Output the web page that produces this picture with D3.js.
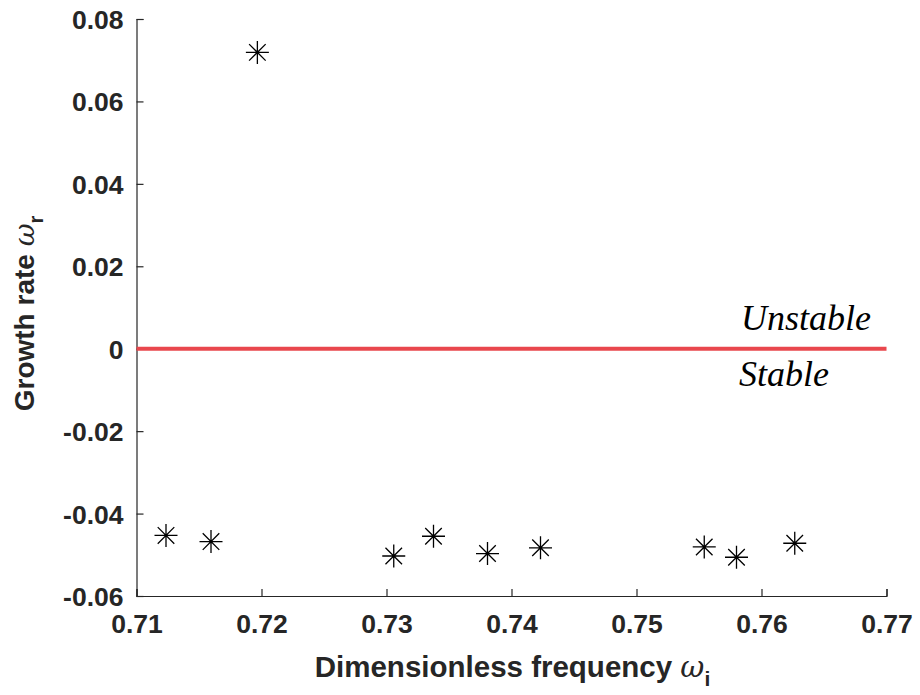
<!DOCTYPE html>
<html>
<head>
<meta charset="utf-8">
<script src="https://cdn.jsdelivr.net/npm/d3@7"></script>
<style>
  html, body { margin: 0; padding: 0; background: #fff; }
  svg { display: block; }
</style>
</head>
<body>
<div id="chart"></div>
<script>
// Eigenvalue spectrum: dimensionless frequency vs growth rate
const frequency = [0.71236, 0.71596, 0.71967, 0.73058, 0.73376, 0.73808, 0.74232, 0.75542, 0.75800, 0.76266];
const growthRate = [-0.0453, -0.0468, 0.0719, -0.0503, -0.0455, -0.0497, -0.0483, -0.0481, -0.0506, -0.0472];

const xTicks = [0.71, 0.72, 0.73, 0.74, 0.75, 0.76, 0.77];
const yTicks = [-0.06, -0.04, -0.02, 0, 0.02, 0.04, 0.06, 0.08];
const xDomain = [0.71, 0.77];
const yDomain = [-0.06, 0.08];
const neutralLevel = 0;

const W = 920, H = 695;
const margin = { left: 136.5, right: 33.5, top: 19, bottom: 99 };
const axisColor = "#262626";
const font = "'Liberation Sans', Arial, Helvetica, sans-serif";

const svg = d3.select("#chart").append("svg")
  .attr("width", W).attr("height", H);

const x = d3.scaleLinear().domain(xDomain).range([margin.left, W - margin.right]);
const y = d3.scaleLinear().domain(yDomain).range([H - margin.bottom, margin.top]);

// Plain hyphen for negatives, as the plotting package prints them
const fmt = d => d === 0 ? "0" : d3.format(".2f")(d).replace("\u2212", "-");

// Axes (ticks pointing inward, no box)
const xAxis = d3.axisBottom(x).tickValues(xTicks).tickSizeInner(-7).tickSizeOuter(-7)
  .tickPadding(18).tickFormat(fmt);
const yAxis = d3.axisLeft(y).tickValues(yTicks).tickSizeInner(-7).tickSizeOuter(-7)
  .tickPadding(13).tickFormat(fmt);

const gx = svg.append("g").attr("transform", `translate(0,${y(yDomain[0])})`).call(xAxis);
const gy = svg.append("g").attr("transform", `translate(${x(xDomain[0])},0)`).call(yAxis);

[gx, gy].forEach(g => {
  g.select(".domain").attr("stroke", axisColor).attr("stroke-width", 1.2);
  g.selectAll(".tick line").attr("stroke", axisColor).attr("stroke-width", 1.2);
  g.selectAll(".tick text").attr("fill", axisColor)
    .style("font-family", font).style("font-weight", "bold").style("font-size", "26.5px");
});
gx.selectAll(".tick text").attr("dy", "0.71em");
gy.selectAll(".tick text").attr("dy", "0.36em");

// Stability boundary
svg.append("line")
  .attr("x1", x(xDomain[0])).attr("x2", x(xDomain[1]))
  .attr("y1", y(neutralLevel)).attr("y2", y(neutralLevel))
  .attr("stroke", "#e9474d").attr("stroke-width", 4);

// Region annotations
const noteStyle = sel => sel.style("font-family", "'Liberation Serif', 'Times New Roman', serif")
  .style("font-style", "italic").style("font-size", "36px").attr("fill", "#000");
svg.append("text").attr("x", 741).attr("y", 330).text("Unstable").call(noteStyle);
svg.append("text").attr("x", 739).attr("y", 386).text("Stable").call(noteStyle);

// Asterisk markers
const r = 11.5, rd = r * 0.72;
const star = `M${-r},0H${r}M0,${-r}V${r}M${-rd},${-rd}L${rd},${rd}M${-rd},${rd}L${rd},${-rd}`;
svg.append("g").selectAll("path")
  .data(frequency.map((f, i) => [f, growthRate[i]]))
  .join("path")
  .attr("transform", d => `translate(${x(d[0])},${y(d[1])})`)
  .attr("d", star)
  .attr("stroke", "#000").attr("stroke-width", 1.3).attr("fill", "none");

// Axis titles
const labelStyle = size => sel => sel.style("font-family", font).style("font-weight", "bold")
  .style("font-size", size + "px").attr("fill", axisColor);

const xl = svg.append("text").attr("x", (x.range()[0] + x.range()[1]) / 2 + 1).attr("y", 677)
  .attr("text-anchor", "middle").call(labelStyle(29.5));
xl.append("tspan").text("Dimensionless frequency ");
xl.append("tspan").style("font-family", "'DejaVu Serif', serif").style("font-weight", "normal")
  .style("font-style", "italic").text("ω");
xl.append("tspan").attr("dy", 9).style("font-size", "21px").text("i");

const yl = svg.append("text")
  .attr("transform", `translate(34,${(y.range()[0] + y.range()[1]) / 2 + 6}) rotate(-90)`)
  .attr("text-anchor", "middle").call(labelStyle(28));
yl.append("tspan").text("Growth rate ");
yl.append("tspan").style("font-family", "'DejaVu Serif', serif").style("font-weight", "normal")
  .style("font-style", "italic").text("ω");
yl.append("tspan").attr("dy", 9).style("font-size", "20px").text("r");
</script>
</body>
</html>
